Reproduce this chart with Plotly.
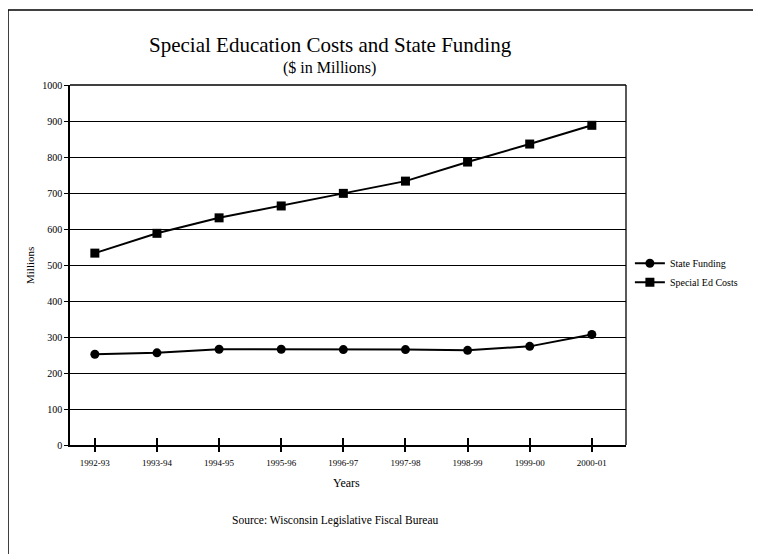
import plotly.graph_objects as go

years = ["1992-93", "1993-94", "1994-95", "1995-96", "1996-97",
         "1997-98", "1998-99", "1999-00", "2000-01"]
state_funding = [252, 256, 266, 266, 265, 265, 263, 274, 307]
special_ed_costs = [533, 588, 631, 664, 699, 733, 786, 836, 888]
y_ticks = [0, 100, 200, 300, 400, 500, 600, 700, 800, 900, 1000]

FONT = "Liberation Serif"

fig = go.Figure()
fig.add_trace(go.Scatter(
    x=years, y=state_funding, name="State Funding", mode="lines+markers",
    line=dict(color="black", width=2),
    marker=dict(symbol="circle", size=9, color="black")))
fig.add_trace(go.Scatter(
    x=years, y=special_ed_costs, name="Special Ed Costs", mode="lines+markers",
    line=dict(color="black", width=2),
    marker=dict(symbol="square", size=9, color="black")))
# invisible helper trace for inside x ticks
fig.add_trace(go.Scatter(x=years, y=state_funding, xaxis="x2", showlegend=False,
                         mode="markers", marker=dict(opacity=0), hoverinfo="skip"))

fig.update_layout(
    width=753, height=546,
    margin=dict(l=62, r=135, t=77, b=109),
    paper_bgcolor="white", plot_bgcolor="white",
    font=dict(family=FONT, color="black"),
    showlegend=True,
    legend=dict(x=1.007, y=0.545, xanchor="left", yanchor="top",
                itemwidth=30,
                font=dict(family=FONT, size=10, color="black"),
                bgcolor="rgba(0,0,0,0)", borderwidth=0, tracegroupgap=0),
    xaxis=dict(type="category", range=[-0.4, 8.55], showgrid=False,
               showline=True, linecolor="black", linewidth=1.5,
               ticks="outside", ticklen=5, tickwidth=1.5, tickcolor="black",
               ticklabelstandoff=3,
               tickfont=dict(family=FONT, size=9, color="black"),
               mirror=False, zeroline=False),
    xaxis2=dict(type="category", range=[-0.4, 8.55], overlaying="x",
                matches="x", showgrid=False, showline=False,
                ticks="inside", ticklen=7, tickwidth=1.5, tickcolor="black",
                showticklabels=False, side="bottom"),
    yaxis=dict(range=[0, 1000], tickvals=y_ticks, showgrid=True,
               gridcolor="black", gridwidth=1.4, showline=True,
               linecolor="black", linewidth=1.5, ticks="outside", ticklen=4,
               tickcolor="black", tickfont=dict(family=FONT, size=10, color="black"),
               zeroline=False, mirror=False),
    shapes=[
        dict(type="line", xref="paper", yref="paper", x0=1, x1=1, y0=0, y1=1,
             line=dict(color="black", width=1.3)),
        dict(type="line", xref="paper", yref="paper", x0=0, x1=1, y0=1, y1=1,
             line=dict(color="black", width=1.4)),
        # outer frame: top and left edges
        dict(type="line", xref="paper", yref="paper", x0=-0.1115, x1=1.5,
             y0=1.208, y1=1.208, line=dict(color="black", width=1.5)),
        dict(type="line", xref="paper", yref="paper", x0=-0.1115, x1=-0.1115,
             y0=-0.5, y1=1.208, line=dict(color="black", width=1.5)),
    ],
    annotations=[
        dict(text="Special Education Costs and State Funding", xref="paper", yref="paper",
             x=0.468, y=1.111, xanchor="center", yanchor="middle", showarrow=False,
             font=dict(family=FONT, size=21)),
        dict(text="($ in Millions)", xref="paper", yref="paper",
             x=0.466, y=1.047, xanchor="center", yanchor="middle", showarrow=False,
             font=dict(family=FONT, size=16)),
        dict(text="Years", xref="paper", yref="paper",
             x=0.497, y=-0.106, xanchor="center", yanchor="middle", showarrow=False,
             font=dict(family=FONT, size=12)),
        dict(text="Source: Wisconsin Legislative Fiscal Bureau", xref="paper", yref="paper",
             x=0.478, y=-0.211, xanchor="center", yanchor="middle", showarrow=False,
             font=dict(family=FONT, size=11.5)),
        dict(text="Millions", xref="paper", yref="paper", textangle=-90,
             x=-0.072, y=0.5, xanchor="center", yanchor="middle", showarrow=False,
             font=dict(family=FONT, size=11)),
    ],
)

fig.write_html("out.html")
